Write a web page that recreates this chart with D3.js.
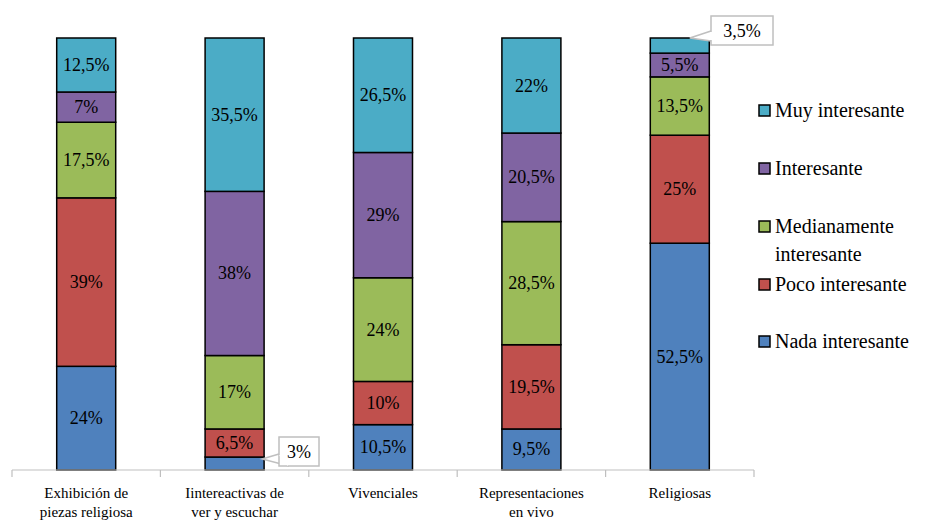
<!DOCTYPE html>
<html><head><meta charset="utf-8">
<script src="https://cdn.jsdelivr.net/npm/d3@7"></script>
<style>
body{margin:0;background:#fff}
svg text{font-family:"Liberation Serif",Tinos,Times,serif !important;}
</style>
</head><body><svg id="c" width="939" height="523"></svg>
<script>
const categories = [["Exhibición de","piezas religiosa"],["Iintereactivas de","ver y escuchar"],["Vivenciales"],["Representaciones","en vivo"],["Religiosas"]];
const seriesNames = ["Nada interesante","Poco interesante","Medianamente interesante","Interesante","Muy interesante"];
const nada = [24, 3, 10.5, 9.5, 52.5];
const poco = [39, 6.5, 10, 19.5, 25];
const mediana = [17.5, 17, 24, 28.5, 13.5];
const interesante = [7, 38, 29, 20.5, 5.5];
const muy = [12.5, 35.5, 26.5, 22, 3.5];
const colors = ["#4F81BD","#C0504D","#9BBB59","#8064A2","#4BACC6"];
const fmt = v => String(v).replace(".", ",") + "%";

const svg = d3.select("#c");
const series = [nada, poco, mediana, interesante, muy];
const x = d3.scaleBand().domain(d3.range(categories.length)).range([12, 754]).paddingInner(0).paddingOuter(0);
const y = d3.scaleLinear().domain([0, 100]).range([470, 38]);
const bw = 59;

const stackData = categories.map((c, i) => {
  const o = {i};
  series.forEach((s, k) => o["s" + k] = s[i]);
  return o;
});
const stack = d3.stack().keys(series.map((s, k) => "s" + k))(stackData);

stack.forEach((layer, k) => {
  layer.forEach((d, i) => {
    const cx = x(i) + x.bandwidth() / 2;
    svg.append("rect").attr("x", cx - bw / 2).attr("y", y(d[1])).attr("width", bw)
      .attr("height", y(d[0]) - y(d[1])).attr("fill", colors[k]).attr("stroke", "#000").attr("stroke-width", 1.5);
  });
});

function txt(sel, size) {
  return sel.append("text").attr("font-size", size).attr("font-family", "Liberation Serif")
    .style("font-family", "Liberation Serif").style("font-size", size + "px").attr("fill", "#000");
}

stack.forEach((layer, k) => {
  layer.forEach((d, i) => {
    const v = series[k][i];
    const cx = x(i) + x.bandwidth() / 2;
    if (v < 4) return;
    txt(svg, 18).attr("x", cx).attr("y", (y(d[0]) + y(d[1])) / 2 + 6)
      .attr("text-anchor", "middle").text(fmt(v));
  });
});

function callout(i, k, bx, by, w, h) {
  const d = stack[k][i];
  const cx = x(i) + x.bandwidth() / 2;
  const tx = k === 0 ? cx + bw / 2 - 2 : cx + 10;
  const ty = y(d[1]);
  const g = svg.append("g");
  if (k === 0) {
    g.append("path").attr("d", `M${bx},${by + h - 12} L${tx},${ty + 2} L${bx + 10},${by + h}`)
      .attr("fill", "#fff").attr("stroke", "#bfbfbf").attr("stroke-width", 1.5);
  } else {
    g.append("path").attr("d", `M${bx},${by + h - 14} L${tx},${ty} L${bx},${by + h - 4}`)
      .attr("fill", "#fff").attr("stroke", "#bfbfbf").attr("stroke-width", 1.5);
  }
  g.append("rect").attr("x", bx).attr("y", by).attr("width", w).attr("height", h)
    .attr("fill", "#fff").attr("stroke", "#bfbfbf").attr("stroke-width", 1.5);
  if (k === 0) {
    g.append("path").attr("d", `M${bx + 0.8},${by + h - 11} L${bx + 9},${by + h - 0.8}`).attr("stroke", "#fff").attr("stroke-width", 1.5);
  } else {
    g.append("path").attr("d", `M${bx},${by + h - 13} L${bx},${by + h - 5}`).attr("stroke", "#fff").attr("stroke-width", 2);
  }
  txt(g, 18).attr("x", bx + w / 2).attr("y", by + h / 2 + 6)
    .attr("text-anchor", "middle").text(fmt(series[k][i]));
}
callout(1, 0, 279, 437, 40, 29);
callout(4, 4, 711, 16, 62, 29);

const axisG = svg.append("g").attr("transform", "translate(0,470)");
axisG.append("line").attr("x1", 12).attr("x2", 754).attr("stroke", "#bfbfbf").attr("stroke-width", 1.2);
d3.range(categories.length + 1).forEach(i => {
  const xx = i < categories.length ? x(i) : x(categories.length - 1) + x.bandwidth();
  axisG.append("line").attr("x1", xx).attr("x2", xx).attr("y1", 0).attr("y2", 7).attr("stroke", "#bfbfbf").attr("stroke-width", 1.2);
});
categories.forEach((c, i) => {
  c.forEach((line, j) => txt(svg, 15).attr("x", x(i) + x.bandwidth() / 2).attr("y", 498 + j * 19).attr("text-anchor", "middle").text(line));
});

const legendItems = [
  {k: 4, lines: ["Muy interesante"], y: 110},
  {k: 3, lines: ["Interesante"], y: 168},
  {k: 2, lines: ["Medianamente", "interesante"], y: 226},
  {k: 1, lines: ["Poco interesante"], y: 284},
  {k: 0, lines: ["Nada interesante"], y: 341}
];
legendItems.forEach(it => {
  svg.append("rect").attr("x", 759).attr("y", it.y - 5).attr("width", 11).attr("height", 11)
    .attr("fill", colors[it.k]).attr("stroke", "#000").attr("stroke-width", 1.5);
  it.lines.forEach((l, j) => txt(svg, 20).attr("x", 775).attr("y", it.y + 7 + j * 28).text(l));
});
</script></body></html>
